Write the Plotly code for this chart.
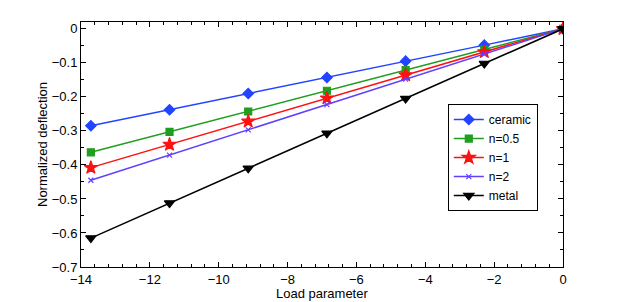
import plotly.graph_objects as go

load = [-13.714, -11.429, -9.143, -6.857, -4.571, -2.286, 0.0]
ceramic = [-0.285, -0.238, -0.190, -0.143, -0.095, -0.048, 0.0]
n05 = [-0.363, -0.303, -0.243, -0.182, -0.121, -0.061, 0.0]
n1 = [-0.408, -0.340, -0.272, -0.204, -0.136, -0.068, 0.0]
n2 = [-0.445, -0.371, -0.297, -0.223, -0.148, -0.074, 0.0]
metal = [-0.615, -0.512, -0.410, -0.307, -0.205, -0.102, 0.0]

series = [
    ("ceramic", ceramic, "#2244ff", "diamond", 8),
    ("n=0.5", n05, "#1f9e1f", "square", 7),
    ("n=1", n1, "#ff1111", "star", 10),
    ("n=2", n2, "#6040ff", "x-thin", 5),
    ("metal", metal, "#000000", "triangle-down", 9),
]

fig = go.Figure()
for name, vals, col, sym, sz in series:
    fig.add_trace(go.Scatter(
        x=load, y=vals, name=name, mode="lines+markers",
        line=dict(color=col, width=1.5),
        marker=dict(symbol=sym, size=sz, color=col,
                    line=dict(color=col, width=1.2)),
    ))

font = "Liberation Sans, Arial, sans-serif"
fig.update_layout(
    width=620, height=302,
    margin=dict(l=73, r=65, t=14, b=43),
    paper_bgcolor="white", plot_bgcolor="white",
    font=dict(family=font, size=13, color="black"),
    legend=dict(x=0.761, y=0.665, xanchor="left", yanchor="top",
                bordercolor="black", borderwidth=1, bgcolor="white",
                font=dict(size=12), tracegroupgap=0, itemwidth=30,
                itemsizing="trace"),
    showlegend=True,
    annotations=[dict(text="Load parameter", xref="paper", yref="paper",
                      x=0.5, y=0, yshift=-26, xanchor="center", yanchor="middle",
                      showarrow=False, font=dict(size=13))],
)
fig.update_xaxes(
    range=[-14, 0], dtick=2, tick0=0, showgrid=False, zeroline=False,
    automargin=False,
    showline=True, linecolor="black", linewidth=1, mirror="allticks",
    ticks="inside", ticklen=5, tickcolor="black",
    minor=dict(dtick=0.4, tick0=0, ticks="inside", ticklen=3, tickcolor="black", showgrid=False),
)
fig.update_yaxes(
    range=[-0.7, 0.02], dtick=0.1, tick0=0, showgrid=False, zeroline=False,
    automargin=False,
    showline=True, linecolor="black", linewidth=1, mirror="allticks",
    ticks="inside", ticklen=5, tickcolor="black",
    minor=dict(dtick=0.05, tick0=0, ticks="inside", ticklen=3, tickcolor="black", showgrid=False),
    title=dict(text="Normalized deflection", standoff=1, font=dict(size=13)),
)
fig.write_html("out.html")
